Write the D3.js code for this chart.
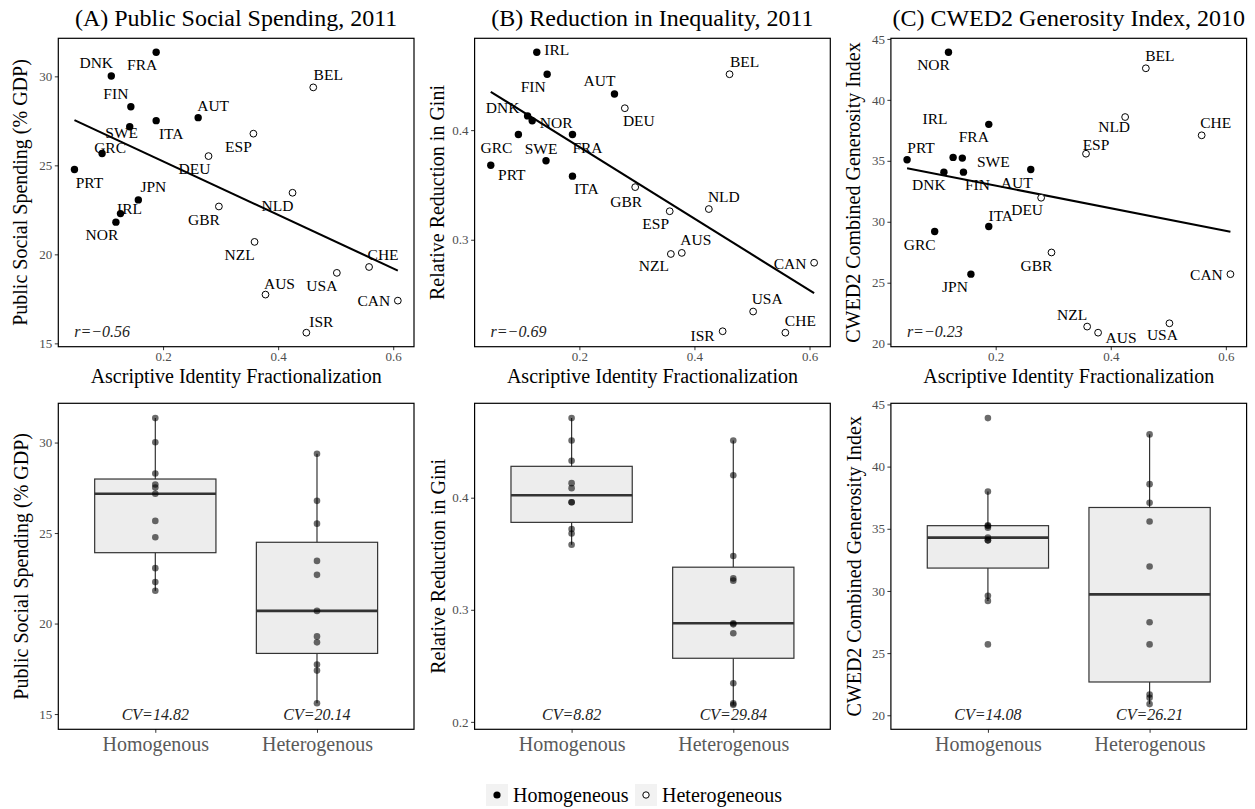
<!DOCTYPE html>
<html><head><meta charset="utf-8">
<script src="https://cdn.jsdelivr.net/npm/d3@7"></script>
<style>
body{margin:0;background:#fff}
text{font-family:"Liberation Serif","Times New Roman",serif}
</style>
</head><body>
<svg id="chart" width="1255" height="809"></svg>
<script>
// ---------------- DATA ----------------
const countries = ["PRT","GRC","DNK","NOR","IRL","SWE","FIN","JPN","FRA","ITA","AUT",
                   "DEU","GBR","ESP","NZL","AUS","NLD","ISR","BEL","USA","CHE","CAN"];
const fractionalization = [0.046,0.094,0.110,0.118,0.126,0.142,0.144,0.157,0.188,0.188,0.261,
                           0.279,0.297,0.357,0.359,0.378,0.425,0.449,0.461,0.502,0.558,0.608];
const groupOf = ["Homogeneous","Homogeneous","Homogeneous","Homogeneous","Homogeneous","Homogeneous",
                 "Homogeneous","Homogeneous","Homogeneous","Homogeneous","Homogeneous",
                 "Heterogeneous","Heterogeneous","Heterogeneous","Heterogeneous","Heterogeneous",
                 "Heterogeneous","Heterogeneous","Heterogeneous","Heterogeneous","Heterogeneous","Heterogeneous"];
const socialSpending = [24.77,25.67,30.02,21.81,22.29,27.17,28.29,23.06,31.35,27.51,27.68,
                        25.52,22.69,26.78,20.70,17.74,23.46,15.60,29.38,18.96,19.29,17.40];
const giniReduction = [0.368,0.396,0.413,0.4085,0.471,0.372,0.451,null,0.396,0.358,0.433,
                       0.420,0.348,0.326,0.287,0.288,0.328,0.2165,0.451,0.2345,0.2152,0.279];
const generosity = [35.09,29.20,34.07,43.90,35.28,35.22,34.07,25.70,37.99,29.61,34.29,
                    31.97,27.48,35.58,21.40,20.90,38.59,null,42.59,21.67,37.09,25.70];

const panelTitles = ["(A) Public Social Spending, 2011","(B) Reduction in Inequality, 2011","(C) CWED2 Generosity Index, 2010"];
const yTitles = ["Public Social Spending (% GDP)","Relative Reduction in Gini","CWED2 Combined Generosity Index"];
const xTitle = "Ascriptive Identity Fractionalization";
const xTicks = [0.2,0.4,0.6];
const scatterYTicks = [[15,20,25,30],[0.3,0.4],[20,25,30,35,40,45]];
const boxYTicks = [[15,20,25,30],[0.2,0.3,0.4],[20,25,30,35,40,45]];
const yTickFormats = ["d",".1f","d"];
const rLabels = ["r=\u22120.56","r=\u22120.69","r=\u22120.23"];
const cvLabels = [["CV=14.82","CV=20.14"],["CV=8.82","CV=29.84"],["CV=14.08","CV=26.21"]];
const groups = ["Homogeneous","Heterogeneous"];
const boxCategories = ["Homogenous","Heterogenous"];
const seriesValues = [socialSpending, giniReduction, generosity];

// label placement (repel-like offsets, px, text centre relative to point)
const labelNudge = [
 {FRA:[-14,13],DNK:[-15,-13],FIN:[-15,-13],AUT:[15,-12],ITA:[15,13],SWE:[-8,6],GRC:[8,-6],PRT:[15,13],
  JPN:[15,-13],IRL:[9,-5],NOR:[-14,13],BEL:[15,-12],ESP:[-15,13],DEU:[-14,13],NLD:[-15,13],GBR:[-15,13],
  NZL:[-15,13],CHE:[14,-12],USA:[-15,13],AUS:[14,-11],CAN:[-24,0],ISR:[15,-11]},
 {IRL:[20,-2],FIN:[-14,13],AUT:[-15,-13],DEU:[14,13],DNK:[-25,-8],NOR:[24,2],GRC:[-22,13],FRA:[15,13],
  SWE:[-5,-12],PRT:[21,10],ITA:[14,13],BEL:[15,-12],GBR:[-9,15],ESP:[-14,13],NLD:[15,-12],AUS:[14,-13],
  NZL:[-17,12],CAN:[-24,1],USA:[14,-13],ISR:[-20,5],CHE:[15,-12]},
 {NOR:[-15,13],BEL:[14,-12],NLD:[-11,10],FRA:[-15,13],CHE:[14,-12],ESP:[10,-9],IRL:[-18,-38],SWE:[31,4],
  PRT:[14,-12],AUT:[-14,13],DNK:[-15,13],FIN:[14,13],DEU:[-14,12],ITA:[12,-11],GRC:[-15,13],GBR:[-15,13],
  JPN:[-16,13],CAN:[-24,1],NZL:[-15,-12],USA:[-7,12],AUS:[23,5]}
];

// ---------------- LAYOUT ----------------
const svg = d3.select("#chart");
const colLeft = [58.3, 474.6, 890.9];
const panelW = 355.7;
const topRow = {y0: 38.3, y1: 346.7};
const botRow = {y0: 403.3, y1: 729.3};
const INK = "#000", TICKTXT = "#4d4d4d";

function expand(lo, hi, m=0.05){ const d=(hi-lo)*m; return [lo-d, hi+d]; }

function styleAxis(g, fs, col){
  g.attr("font-family","Liberation Serif, serif");
  g.select(".domain").remove();
  g.selectAll(".tick line").attr("stroke","#333").attr("stroke-width",1);
  g.selectAll(".tick text").attr("fill",col).attr("font-size",fs)
   .attr("font-family","Liberation Serif, serif");
}

const xExtent = d3.extent(fractionalization);
const xDomain = expand(xExtent[0], xExtent[1]);

for (let p=0; p<3; p++){
  const L = colLeft[p], R = L + panelW;
  const vals = seriesValues[p];
  const pts = countries.map((c,i)=>({c, x:fractionalization[i], y:vals[i], g:groupOf[i]}))
                       .filter(d=>d.y!==null);

  // ---------- top scatter ----------
  const x = d3.scaleLinear().domain(xDomain).range([L, R]);
  const yExt = d3.extent(pts, d=>d.y);
  const y = d3.scaleLinear().domain(expand(yExt[0], yExt[1])).range([topRow.y1, topRow.y0]);

  svg.append("text").attr("x",(L+R)/2).attr("y",26).attr("text-anchor","middle")
     .attr("font-size",24).attr("fill",INK).text(panelTitles[p]);

  const gx = svg.append("g").attr("transform",`translate(0,${topRow.y1})`)
     .call(d3.axisBottom(x).tickValues(xTicks).tickFormat(d3.format(".1f")).tickSize(3.5).tickPadding(2));
  styleAxis(gx, 13, TICKTXT);
  const gy = svg.append("g").attr("transform",`translate(${L},0)`)
     .call(d3.axisLeft(y).tickValues(scatterYTicks[p]).tickFormat(d3.format(yTickFormats[p])).tickSize(3.5).tickPadding(2.5));
  styleAxis(gy, 13, TICKTXT);

  svg.append("text").attr("x",(L+R)/2).attr("y",383).attr("text-anchor","middle")
     .attr("font-size",20).attr("fill",INK).text(xTitle);
  svg.append("text").attr("transform",`translate(${L-31},${(topRow.y0+topRow.y1)/2}) rotate(-90)`)
     .attr("text-anchor","middle").attr("font-size",20).attr("fill",INK).text(yTitles[p]);

  // regression line
  const mx = d3.mean(pts,d=>d.x), my = d3.mean(pts,d=>d.y);
  const b = d3.sum(pts,d=>(d.x-mx)*(d.y-my))/d3.sum(pts,d=>(d.x-mx)**2);
  const a = my - b*mx;
  const px = d3.extent(pts,d=>d.x);
  svg.append("line").attr("x1",x(px[0])).attr("y1",y(a+b*px[0]))
     .attr("x2",x(px[1])).attr("y2",y(a+b*px[1]))
     .attr("stroke","#000").attr("stroke-width",2.1);

  // labels
  const nud = labelNudge[p];
  svg.append("g").selectAll("text").data(pts).join("text")
     .attr("x",d=>x(d.x)+nud[d.c][0])
     .attr("y",d=>y(d.y)+nud[d.c][1]+5.1)
     .attr("text-anchor","middle").attr("font-size",15.5).attr("fill",INK)
     .text(d=>d.c);

  // points
  svg.append("g").selectAll("circle").data(pts).join("circle")
     .attr("cx",d=>x(d.x)).attr("cy",d=>y(d.y)).attr("r",d=>d.g===groups[0]?3.7:3.4)
     .attr("fill",d=>d.g===groups[0]?"#000":"#fff")
     .attr("stroke","#000").attr("stroke-width",d=>d.g===groups[0]?0:1);

  svg.append("text").attr("x",L+16).attr("y",topRow.y1-10).attr("font-size",16)
     .attr("font-style","italic").attr("fill","#222").text(rLabels[p]);

  svg.append("rect").attr("x",L).attr("y",topRow.y0).attr("width",panelW)
     .attr("height",topRow.y1-topRow.y0).attr("fill","none").attr("stroke","#000").attr("stroke-width",1.2);

  // ---------- bottom box plot ----------
  const xb = d3.scalePoint().domain(groups).range([L,R]).padding(0.6);
  const step = xb.step();
  const cvY = 0.96*yExt[0];
  const yb = d3.scaleLinear().domain(expand(cvY, yExt[1])).range([botRow.y1, botRow.y0]);

  const gxb = svg.append("g").attr("transform",`translate(0,${botRow.y1})`)
     .call(d3.axisBottom(xb).tickFormat((d,i)=>boxCategories[i]).tickSize(3.5).tickPadding(4));
  styleAxis(gxb, 20, "#5a5a5a");
  const gyb = svg.append("g").attr("transform",`translate(${L},0)`)
     .call(d3.axisLeft(yb).tickValues(boxYTicks[p]).tickFormat(d3.format(yTickFormats[p])).tickSize(3.5).tickPadding(2.5));
  styleAxis(gyb, 13, TICKTXT);

  svg.append("text").attr("transform",`translate(${L-30},${(botRow.y0+botRow.y1)/2}) rotate(-90)`)
     .attr("text-anchor","middle").attr("font-size",20).attr("fill",INK).text(yTitles[p]);

  groups.forEach((gname, gi)=>{
    const v = pts.filter(d=>d.g===gname).map(d=>d.y).sort(d3.ascending);
    const q1 = d3.quantile(v,0.25), med = d3.quantile(v,0.5), q3 = d3.quantile(v,0.75);
    const iqr = q3-q1;
    const lo = d3.min(v.filter(t=>t>=q1-1.5*iqr)), hi = d3.max(v.filter(t=>t<=q3+1.5*iqr));
    const cx = xb(gname), bw = step*0.75;
    const g = svg.append("g");
    g.append("line").attr("x1",cx).attr("x2",cx).attr("y1",yb(hi)).attr("y2",yb(q3))
      .attr("stroke","#333").attr("stroke-width",1.2);
    g.append("line").attr("x1",cx).attr("x2",cx).attr("y1",yb(q1)).attr("y2",yb(lo))
      .attr("stroke","#333").attr("stroke-width",1.2);
    g.append("rect").attr("x",cx-bw/2).attr("y",yb(q3)).attr("width",bw).attr("height",yb(q1)-yb(q3))
      .attr("fill","#ededed").attr("stroke","#333").attr("stroke-width",1.2);
    g.append("line").attr("x1",cx-bw/2).attr("x2",cx+bw/2).attr("y1",yb(med)).attr("y2",yb(med))
      .attr("stroke","#333").attr("stroke-width",2.6);
    g.selectAll("circle").data(v).join("circle").attr("cx",cx).attr("cy",d=>yb(d)).attr("r",3.3)
      .attr("fill","#000").attr("fill-opacity",0.58);
    svg.append("text").attr("x",cx).attr("y",yb(cvY)+5.3).attr("text-anchor","middle")
      .attr("font-size",16).attr("font-style","italic").attr("fill","#222").text(cvLabels[p][gi]);
  });

  svg.append("rect").attr("x",L).attr("y",botRow.y0).attr("width",panelW)
     .attr("height",botRow.y1-botRow.y0).attr("fill","none").attr("stroke","#000").attr("stroke-width",1.2);
}

// ---------------- LEGEND ----------------
const legendX = [486, 635];
groups.forEach((gname,i)=>{
  const lx = legendX[i];
  svg.append("rect").attr("x",lx).attr("y",784).attr("width",22).attr("height",22).attr("fill","#f2f2f2");
  svg.append("circle").attr("cx",lx+11).attr("cy",795).attr("r",i===0?3.6:3.2)
     .attr("fill",i===0?"#000":"#fff").attr("stroke","#000").attr("stroke-width",i===0?0:1);
  svg.append("text").attr("x",lx+27).attr("y",802).attr("font-size",20).attr("fill",INK).text(gname);
});
</script>
</body></html>
